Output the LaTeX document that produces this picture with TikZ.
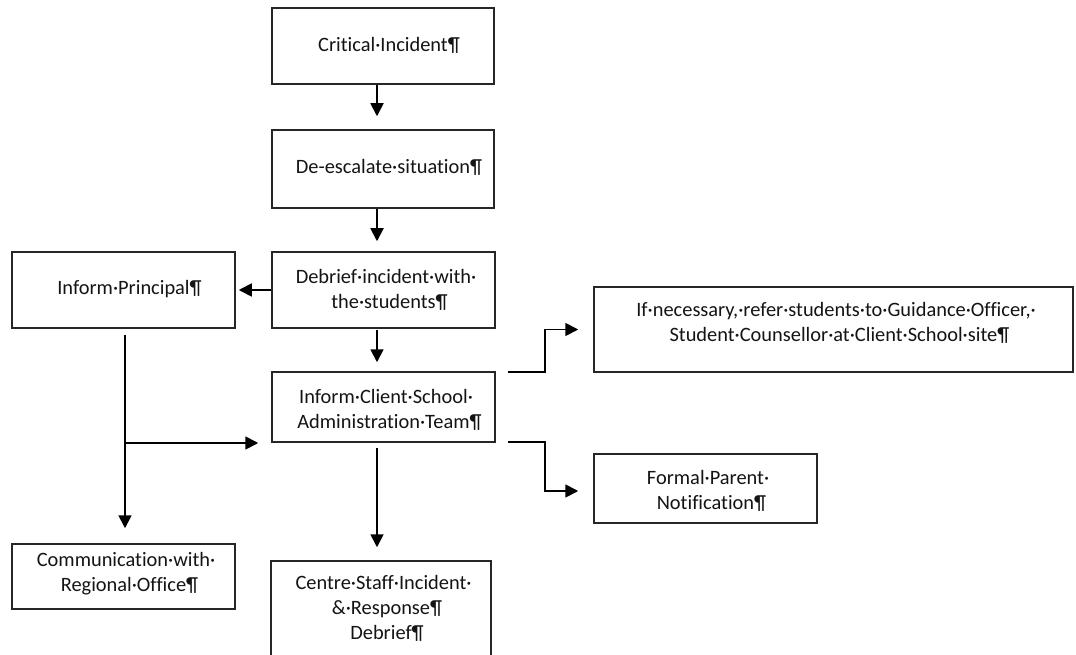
\documentclass[tikz,border=0pt]{standalone}
\usepackage{fontspec}
\setmainfont{Carlito}[Ligatures={NoCommon}]
\usetikzlibrary{arrows.meta}
\begin{document}
\begin{tikzpicture}[x=1pt,y=-1pt,
  box/.style={draw=black!85, line width=1.5pt, inner sep=0pt},
  txt/.style={inner sep=0pt, align=center, font=\fontsize{20.4}{25}\selectfont, text=black!92},
  arr/.style={draw=black, line width=1.8pt, -{Triangle[length=13pt,width=13pt]}}]
\clip (0,0) rectangle (1076,655);
\fill[white] (0,0) rectangle (1076,655);
% boxes
\node[box, minimum width=222pt, minimum height=76pt] (ci) at (383,46) {};
\node[box, minimum width=222pt, minimum height=78pt] (de) at (383,169) {};
\node[box, minimum width=223pt, minimum height=76pt] (db) at (383.5,290) {};
\node[box, minimum width=223pt, minimum height=76pt] (ip) at (123.5,290) {};
\node[box, minimum width=223pt, minimum height=70pt] (cs) at (383.5,407) {};
\node[box, minimum width=479pt, minimum height=85pt] (gd) at (833.5,329.5) {};
\node[box, minimum width=223pt, minimum height=69pt] (fp) at (705.5,488.5) {};
\node[box, minimum width=223pt, minimum height=65pt] (co) at (123.5,576.5) {};
\node[box, minimum width=220pt, minimum height=140pt] (cr) at (381,631) {};
% texts
\node[txt] (tci) at (383,45.5) {Critical·Incident\rlap{¶}};
\node[txt] (tde) at (383,167) {De-escalate·situation\rlap{¶}};
\node[txt] (tdb) at (383.5,289.5) {Debrief·incident·with\rlap{·}\\the·students\rlap{¶}};
\node[txt] (tip) at (123.5,289) {Inform·Principal\rlap{¶}};
\node[txt] (tcs) at (383.5,409.5) {Inform·Client·School\rlap{·}\\Administration·Team\rlap{¶}};
\node[txt] (tgd) at (833.5,322.5) {If·necessary,·refer·students·to·Guidance·Officer,\rlap{·}\\Student·Counsellor·at·Client·School·site\rlap{¶}};
\node[txt] (tfp) at (705.5,490.5) {Formal·Parent\rlap{·}\\Notification\rlap{¶}};
\node[txt] (tco) at (123.5,574) {Communication·with\rlap{·}\\Regional·Office\rlap{¶}};
\node[txt] (tcr) at (381,608) {Centre·Staff·Incident\rlap{·}\\\&·Response\rlap{¶}\\Debrief\rlap{¶}};
% connectors
\draw[arr, shorten >=13pt] ([xshift=-6pt]ci.south) -- ([xshift=-6pt]ci.south |- de.north);
\draw[arr, shorten >=10pt] ([xshift=-6pt]de.south) -- ([xshift=-6pt]de.south |- db.north);
\draw[arr, shorten <=1pt, shorten >=9pt] ([xshift=-6.5pt]db.south) -- ([xshift=-6.5pt]db.south |- cs.north);
\draw[arr, shorten <=5pt, shorten >=13pt] ([xshift=-6.5pt]cs.south) -- ([xshift=-6.5pt]cs.south |- cr.north);
\draw[arr, shorten >=3pt] (db.west) -- (ip.east);
\draw[arr, shorten <=6pt, shorten >=15pt] ([xshift=1.5pt]ip.south) -- ([xshift=1.5pt]ip.south |- co.north);
\coordinate (br) at (125,443);
\draw[arr, shorten >=13pt] (br) -- (br -| cs.west);
\draw[arr, shorten >=15pt] ([xshift=12pt,yshift=-1pt]cs.north east) -- ++(37,0) |- (gd.west);
\draw[arr, shorten >=15pt] ([xshift=12pt,yshift=1pt]cs.south east) -- ++(37,0) |- ([yshift=-2.5pt]fp.west);
\end{tikzpicture}
\end{document}
